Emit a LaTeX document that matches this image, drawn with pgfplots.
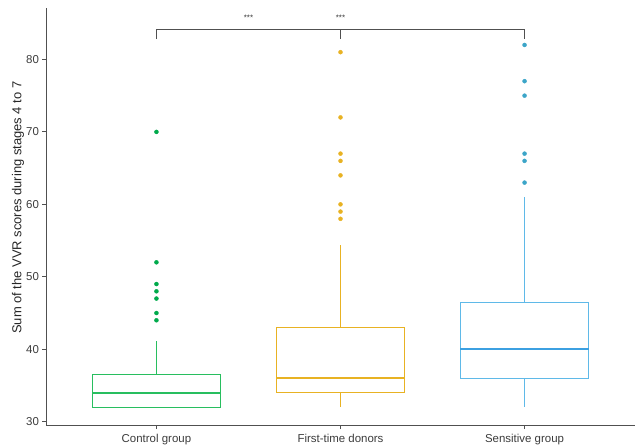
\documentclass[border=0pt]{standalone}
\usepackage{fontspec}
\setmainfont{Liberation Sans}
\usepackage{pgfplots}
\pgfplotsset{compat=1.18}
\usetikzlibrary{calc}
\definecolor{cgreen}{RGB}{40,190,95}
\definecolor{cgreenD}{RGB}{0,170,75}
\definecolor{corange}{RGB}{232,178,35}
\definecolor{cblue}{RGB}{95,185,232}
\definecolor{cblueM}{RGB}{60,160,225}
\definecolor{cblueD}{RGB}{60,165,200}
\definecolor{axgray}{RGB}{80,80,80}
\definecolor{txtgray}{RGB}{60,60,60}
\begin{document}
\begin{tikzpicture}
\begin{axis}[
  scale only axis,
  width=589bp, height=417.7bp,
  xmin=0.4, xmax=3.6, ymin=29.45, ymax=87.1,
  axis lines=left,
  axis line style={axgray, line width=0.9bp, -},
  xtick={1,2,3},
  xticklabels={Control group, First-time donors, Sensitive group},
  ytick={30,40,50,60,70,80},
  tick align=outside,
  major tick length=3.5bp,
  tick style={axgray, line width=0.8bp},
  tick label style={font=\fontsize{11.5}{13}\selectfont, text=txtgray},
  /pgf/number format/assume math mode=true,
  xticklabel style={yshift=-1bp},
  ylabel={Sum of the VVR scores during stages 4 to 7},
  every axis y label/.style={at={(rel axis cs:0,0.522)}, rotate=90, anchor=center, yshift=28bp,
     font=\fontsize{13}{15}\selectfont, text=black!85},
  clip=false,
  box/.style={line width=1bp, mark=none},
  med/.style={line width=1.8bp, mark=none},
  outl/.style={only marks, mark=*, mark size=2bp},
]
\coordinate (bl) at (rel axis cs:0,0);
\coordinate (tr) at (rel axis cs:1,1);
% ---- Control group: Q1=32, med=34, Q3=36.5, whiskers 32..41.2
\addplot[cgreen, box] coordinates {(0.65,32) (1.35,32) (1.35,36.5) (0.65,36.5) (0.65,32)};
\addplot[cgreen, box] coordinates {(1,36.5) (1,41.2)};
\addplot[cgreen, med] coordinates {(0.65,34) (1.35,34)};
\addplot[cgreenD, outl] coordinates {(1,52) (1,49) (1,48) (1,47) (1,45) (1,44) (1,70)};
% ---- First-time donors: Q1=34, med=36, Q3=43, whiskers 32..54.4
\addplot[corange, box] coordinates {(1.65,34) (2.35,34) (2.35,43) (1.65,43) (1.65,34)};
\addplot[corange, box] coordinates {(2,43) (2,54.4)};
\addplot[corange, box] coordinates {(2,34) (2,32)};
\addplot[corange, med] coordinates {(1.65,36) (2.35,36)};
\addplot[corange, outl] coordinates {(2,81) (2,72) (2,67) (2,66) (2,64) (2,60) (2,59) (2,58)};
% ---- Sensitive group: Q1=36, med=40, Q3=46.5, whiskers 32..61
\addplot[cblue, box] coordinates {(2.65,36) (3.35,36) (3.35,46.5) (2.65,46.5) (2.65,36)};
\addplot[cblue, box] coordinates {(3,46.5) (3,61)};
\addplot[cblue, box] coordinates {(3,36) (3,32)};
\addplot[cblueM, med] coordinates {(2.65,40) (3.35,40)};
\addplot[cblueD, outl] coordinates {(3,82) (3,77) (3,75) (3,67) (3,66) (3,63)};
% ---- significance bracket
\addplot[axgray, line width=1bp, mark=none] coordinates {(1,82.8) (1,84.2) (3,84.2) (3,82.8)};
\addplot[axgray, line width=1bp, mark=none] coordinates {(2,84.2) (2,82.8)};
\node[font=\fontsize{8}{9}\selectfont, text=txtgray] at (axis cs:1.5,85.8) {***};
\node[font=\fontsize{8}{9}\selectfont, text=txtgray] at (axis cs:2,85.8) {***};
\end{axis}
\pgfresetboundingbox
\useasboundingbox ($(bl)+(-46bp,-21.3bp)$) rectangle ($(tr)+(2bp,8bp)$);
\end{tikzpicture}
\end{document}
